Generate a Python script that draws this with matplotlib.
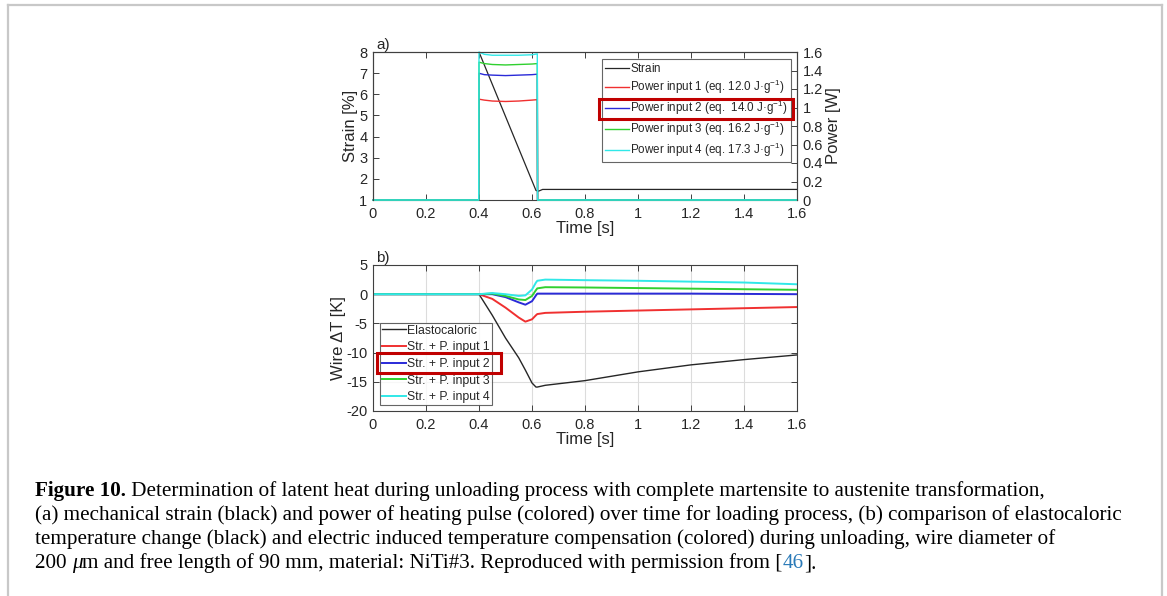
import matplotlib
matplotlib.use("Agg")
import matplotlib.pyplot as plt
from matplotlib.patches import Rectangle
from matplotlib.lines import Line2D

plt.rcParams['font.family'] = ['Liberation Sans', 'DejaVu Sans']
plt.rcParams['mathtext.fontset'] = 'custom'
plt.rcParams['mathtext.rm'] = 'Liberation Sans'
plt.rcParams['mathtext.it'] = 'Liberation Sans:italic'
plt.rcParams['axes.unicode_minus'] = False

# ---- a) strain and heating pulse power
t_strain = [0, 0.4, 0.615, 0.625, 0.64, 1.6]
strain = [8, 8, 1.45, 1.42, 1.5, 1.5]

t_pow = [0, 0.399, 0.4, 0.42, 0.45, 0.5, 0.55, 0.6, 0.62, 0.621, 1.6]
pow1 = [0, 0, 1.09, 1.08, 1.07, 1.065, 1.07, 1.08, 1.085, 0, 0]
pow2 = [0, 0, 1.37, 1.355, 1.35, 1.345, 1.35, 1.355, 1.36, 0, 0]
pow3 = [0, 0, 1.49, 1.475, 1.465, 1.46, 1.465, 1.47, 1.475, 0, 0]
pow4 = [0, 0, 1.6, 1.575, 1.565, 1.565, 1.565, 1.57, 1.58, 0, 0]
# the empty superscript on "Strain" keeps all legend rows the same height
labels_a = ["Strain$^{\\ }$",
            "Power input 1 (eq. 12.0 J\u00b7g$^{-1}$)",
            "Power input 2 (eq.  14.0 J\u00b7g$^{-1}$)",
            "Power input 3 (eq. 16.2 J\u00b7g$^{-1}$)",
            "Power input 4 (eq. 17.3 J\u00b7g$^{-1}$)"]

# ---- b) wire temperature change
t_b = [0, 0.4, 0.45, 0.5, 0.55, 0.575, 0.6, 0.615, 0.62, 0.65, 0.8, 1.0, 1.2, 1.4, 1.6]
dT_ec = [0, 0, -3.6, -7.5, -10.9, -13.0, -15.2, -15.9, -15.9, -15.6, -14.8, -13.3, -12.1, -11.2, -10.4]
dT_p1 = [0, 0, -0.8, -2.3, -4.0, -4.7, -4.3, -3.6, -3.4, -3.2, -3.0, -2.8, -2.6, -2.4, -2.2]
dT_p2 = [0, 0, 0.0, -0.5, -1.4, -1.8, -1.2, -0.2, 0.1, 0.1, 0.1, 0.1, 0.1, 0.05, 0.0]
dT_p3 = [0, 0, 0.1, -0.3, -0.9, -1.0, -0.3, 0.7, 1.0, 1.2, 1.15, 1.05, 0.95, 0.85, 0.75]
dT_p4 = [0, 0, 0.2, 0.0, -0.3, -0.2, 0.8, 2.0, 2.3, 2.5, 2.4, 2.3, 2.15, 2.0, 1.7]
labels_b = ["Elastocaloric", "Str. + P. input 1", "Str. + P. input 2",
            "Str. + P. input 3", "Str. + P. input 4"]

time_ticks = [0, 0.2, 0.4, 0.6, 0.8, 1, 1.2, 1.4, 1.6]
time_labels = ['0', '0.2', '0.4', '0.6', '0.8', '1', '1.2', '1.4', '1.6']
power_ticks = [0, 0.2, 0.4, 0.6, 0.8, 1, 1.2, 1.4, 1.6]
power_labels = ['0', '0.2', '0.4', '0.6', '0.8', '1', '1.2', '1.4', '1.6']

cols = ['#262626', '#f03030', '#2a2ad8', '#30d030', '#30e8e8']
txtc = '#262626'

W, H = 1167, 596
fig = plt.figure(figsize=(W / 100, H / 100), dpi=100)


def fx(px):
    return px / W


def fy(py):
    return 1 - py / H


def style_axes(ax):
    for s in ax.spines.values():
        s.set_color('#404040')
        s.set_linewidth(0.8)
    ax.tick_params(direction='in', length=4, width=0.7, colors='#404040',
                   labelcolor=txtc, labelsize=10.5)


# ---------------- panel a
ax1 = fig.add_axes([fx(373), fy(200), fx(797 - 373), (200 - 52) / H])
ax1r = ax1.twinx()
l0, = ax1.plot(t_strain, strain, color=cols[0], lw=0.9)
lines = [l0]
for p, c in zip([pow1, pow2, pow3, pow4], cols[1:]):
    ln, = ax1r.plot(t_pow, p, color=c, lw=1.0, clip_on=False)
    lines.append(ln)
ax1.set_xlim(0, 1.6)
ax1.set_ylim(1, 8)
ax1r.set_ylim(0, 1.6)
ax1.set_xticks(time_ticks)
ax1.set_xticklabels(time_labels)
ax1.set_yticks(range(1, 9))
ax1r.set_yticks(power_ticks)
ax1r.set_yticklabels(power_labels)
style_axes(ax1)
style_axes(ax1r)
ax1r.spines['bottom'].set_visible(False)
ax1.tick_params(top=True, right=False)
ax1.tick_params(axis='x', pad=5)
ax1.tick_params(axis='y', pad=4)
ax1r.tick_params(pad=4)
ax1.set_xlabel("Time [s]", fontsize=12, labelpad=0, color=txtc)
ax1.set_ylabel("Strain [%]", fontsize=12, labelpad=1, color=txtc)
ax1r.set_ylabel("Power [W]", fontsize=12, labelpad=2, color=txtc)
ax1.text(0.008, 1.0, "a)", transform=ax1.transAxes, fontsize=11,
         va='bottom', color=txtc)
leg1 = ax1r.legend(lines, labels_a, loc='upper right', fontsize=8.4,
                   bbox_to_anchor=(1 - 6 / 424, 1 - 7 / 148), borderaxespad=0,
                   frameon=True, fancybox=False, edgecolor='#404040',
                   handlelength=2.0, handletextpad=0.15, labelspacing=0.25,
                   borderpad=0.25)
leg1.get_frame().set_linewidth(0.8)
for t in leg1.get_texts():
    t.set_color(txtc)

# ---------------- panel b
ax2 = fig.add_axes([fx(373), fy(411), fx(797 - 373), (411 - 265) / H])
for d, c, lab in zip([dT_ec, dT_p1, dT_p2, dT_p3, dT_p4], cols, labels_b):
    ax2.plot(t_b, d, color=c, lw=1.0 if c == cols[0] else 1.4, label=lab)
ax2.set_xlim(0, 1.6)
ax2.set_ylim(-20, 5)
ax2.set_xticks(time_ticks)
ax2.set_xticklabels(time_labels)
ax2.set_yticks([-20, -15, -10, -5, 0, 5])
ax2.grid(True, color='#dcdcdc', lw=0.8)
style_axes(ax2)
ax2.tick_params(top=True, right=True)
ax2.tick_params(axis='x', pad=5)
ax2.tick_params(axis='y', pad=4)
ax2.set_xlabel("Time [s]", fontsize=12, labelpad=0, color=txtc)
ax2.set_ylabel("Wire \u0394T [K]", fontsize=12, labelpad=0, color=txtc)
ax2.text(0.008, 1.0, "b)", transform=ax2.transAxes, fontsize=11,
         va='bottom', color=txtc)
leg2 = ax2.legend(loc='lower left', fontsize=8.8,
                  bbox_to_anchor=(7 / 424, 6 / 146), borderaxespad=0,
                  frameon=True, fancybox=False, edgecolor='#404040',
                  handlelength=2.0, handletextpad=0.1, labelspacing=0.38,
                  borderpad=0.15)
leg2.get_frame().set_linewidth(0.8)
for t in leg2.get_texts():
    t.set_color(txtc)

# red highlight boxes
for (x0, y0, x1, y1) in [(599, 99, 793, 119), (377, 353, 501, 373)]:
    fig.add_artist(Rectangle((fx(x0), fy(y1)), fx(x1 - x0), (y1 - y0) / H,
                             transform=fig.transFigure, fill=False,
                             edgecolor='#c00000', lw=2.2, zorder=10))

# page frame
fr = dict(color='#c8c8c8', lw=1.6, transform=fig.transFigure)
fig.add_artist(Line2D([fx(8), fx(1162)], [fy(5), fy(5)], **fr))
fig.add_artist(Line2D([fx(8), fx(8)], [fy(5), 0], **fr))
fig.add_artist(Line2D([fx(1162), fx(1162)], [fy(5), 0], **fr))

# caption
cap = dict(family='Liberation Serif', fontsize=15.2, color='black')
lines_cap = [
    [("Figure 10.", {'weight': 'bold'}),
     (" Determination of latent heat during unloading process with complete martensite to austenite transformation,", {})],
    [("(a) mechanical strain (black) and power of heating pulse (colored) over time for loading process, (b) comparison of elastocaloric", {})],
    [("temperature change (black) and electric induced temperature compensation (colored) during unloading, wire diameter of", {})],
    [("200 ", {}), ("\u03bc", {'style': 'italic'}),
     ("m and free length of 90 mm, material: NiTi#3. Reproduced with permission from [", {}),
     ("46", {'color': '#2a7ab8'}), ("].", {})],
]
base_y = [496, 520, 544, 568]
for pieces, by in zip(lines_cap, base_y):
    prev = fig.text(fx(35), fy(by), pieces[0][0], ha='left', va='baseline',
                    **{**cap, **pieces[0][1]})
    for s, extra in pieces[1:]:
        prev = ax1.annotate(s, xy=(1, 0), xycoords=prev, va='bottom',
                            ha='left', annotation_clip=False,
                            **{**cap, **extra})

fig.savefig("out.png", dpi=100)
